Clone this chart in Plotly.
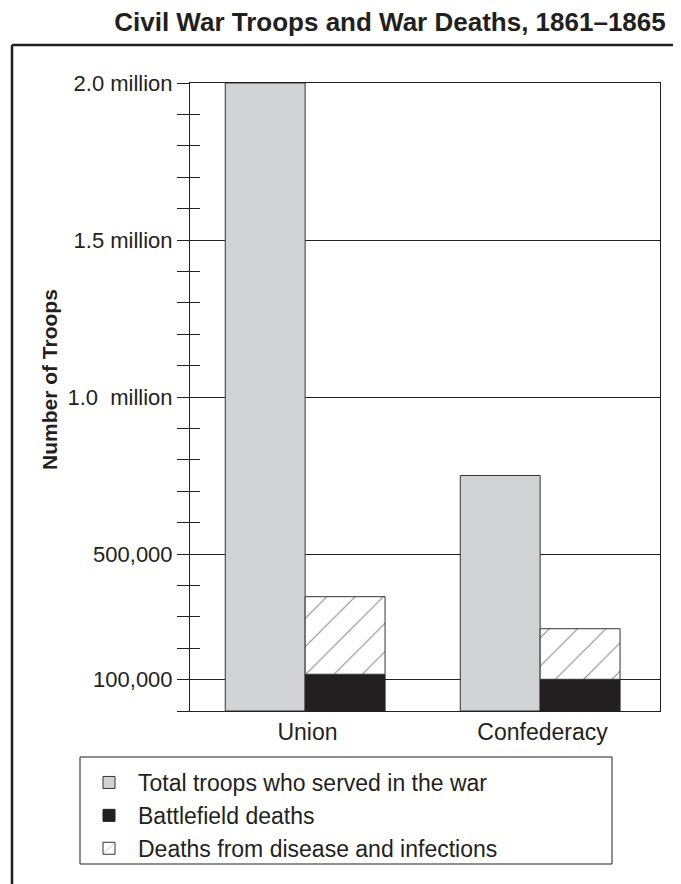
import plotly.graph_objects as go

categories = ["Union", "Confederacy"]
total_troops = [2000000, 750000]
battlefield_deaths = [117000, 101000]
disease_deaths = [247000, 161000]

tick_vals = [100000, 500000, 1000000, 1500000, 2000000]
tick_text = ["100,000", "500,000", "1.0\u00a0 million", "1.5 million", "2.0 million"]
minor_ticks = [i * 100000 for i in range(0, 21)]

FONT = "Liberation Sans, Arial, sans-serif"
GRAY = "#d1d2d4"
DARK = "#231f20"

fig = go.Figure()
fig.add_trace(go.Bar(
    x=categories, y=total_troops, name="Total troops who served in the war",
    marker=dict(color=GRAY, line=dict(color="#333333", width=1)),
    width=0.34, offset=-0.35,
))
fig.add_trace(go.Bar(
    x=categories, y=battlefield_deaths, name="Battlefield deaths",
    marker=dict(color=DARK, line=dict(color=DARK, width=1)),
    width=0.34, offset=-0.01,
))
fig.add_trace(go.Bar(
    x=categories, y=disease_deaths, base=battlefield_deaths,
    name="Deaths from disease and infections",
    marker=dict(color="white", line=dict(color="#333333", width=1),
                pattern=dict(shape="/", size=20, solidity=0.06, fgcolor=DARK, bgcolor="white")),
    width=0.34, offset=-0.01,
))
# overlay axis carrying the inner half of the crossing ticks
fig.add_trace(go.Scatter(x=categories, y=[None, None], yaxis="y2", showlegend=False, hoverinfo="skip"))

OFF = 8  # page body margin
W, H = 681, 884
L, T = 190 - OFF, 83 - OFF
R = W - (660 - OFF)
B = H - (711 - OFF)
pw, ph = W - L - R, H - T - B


def px_x(p):  # page pixel -> paper
    return (p - OFF - L) / pw


def px_y(p):
    return (H - B - (p - OFF)) / ph


fig.update_layout(
    width=W, height=H,
    margin=dict(l=L, r=R, t=T, b=B),
    paper_bgcolor="white", plot_bgcolor="white",
    barmode="overlay",
    font=dict(family=FONT, color=DARK, size=22),
    showlegend=True,
    legend=dict(
        x=px_x(80), y=px_y(761), xanchor="left", yanchor="top",
        borderwidth=0, bgcolor="rgba(0,0,0,0)",
        font=dict(size=23, family=FONT, color=DARK),
        traceorder="normal", itemwidth=48,
    ),
    xaxis=dict(
        type="category", range=[-0.5, 1.5],
        showline=True, linecolor=DARK, linewidth=1, mirror=True,
        ticks="", tickfont=dict(size=23, family=FONT, color=DARK),
        showgrid=False,
    ),
    yaxis=dict(
        range=[0, 2000000], tickvals=tick_vals, ticktext=tick_text,
        ticks="outside", ticklen=12, tickcolor=DARK, tickwidth=1,
        minor=dict(ticks="outside", ticklen=12, dtick=100000, tick0=0, tickcolor=DARK, showgrid=False),
        showline=True, linecolor=DARK, linewidth=1, mirror=True,
        showgrid=True, gridcolor=DARK, gridwidth=1,
        tickfont=dict(size=22, family=FONT, color=DARK),
        zeroline=False,
    ),
    yaxis2=dict(
        overlaying="y", side="left", range=[0, 2000000],
        tickvals=minor_ticks, ticktext=[""] * len(minor_ticks),
        ticks="inside", ticklen=10, tickcolor=DARK, tickwidth=1,
        showgrid=False, zeroline=False, showline=False,
    ),
    title=dict(
        text="<b>Civil War Troops and War Deaths, 1861–1865</b>",
        x=(390 - OFF) / W, xanchor="center", y=1 - (22 - OFF) / H, yanchor="middle",
        font=dict(size=26, family=FONT, color=DARK),
    ),
    annotations=[dict(
        text="<b>Number of Troops</b>", textangle=-90,
        xref="paper", yref="paper", x=px_x(50), y=px_y(380),
        xanchor="center", yanchor="middle",
        showarrow=False, font=dict(size=21, family=FONT, color=DARK),
    )],
    shapes=[
        dict(type="line", xref="paper", yref="paper",
             x0=px_x(12), x1=px_x(12), y0=px_y(45), y1=px_y(900),
             line=dict(color=DARK, width=2.5)),
        dict(type="line", xref="paper", yref="paper",
             x0=px_x(12), x1=px_x(720), y0=px_y(45), y1=px_y(45),
             line=dict(color=DARK, width=2.5)),
        dict(type="rect", xref="paper", yref="paper",
             x0=px_x(80), x1=px_x(612), y0=px_y(757), y1=px_y(864),
             line=dict(color=DARK, width=1), fillcolor="rgba(0,0,0,0)"),
    ],
)

fig.write_html("out.html")
